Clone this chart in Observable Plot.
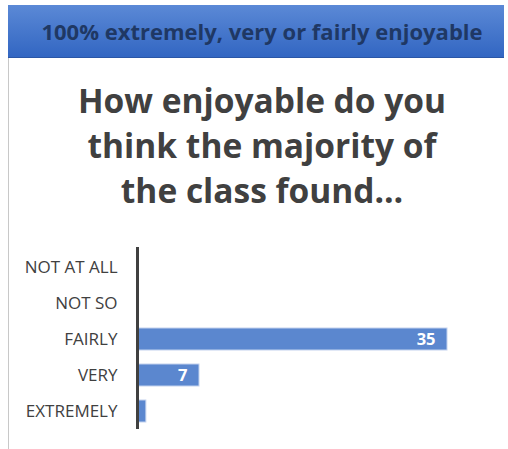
<!DOCTYPE html>
<html>
<head>
<meta charset="utf-8">
<script src="https://cdn.jsdelivr.net/npm/d3@7"></script>
<script src="https://cdn.jsdelivr.net/npm/@observablehq/plot@0.6"></script>
<style>
  html, body { margin: 0; padding: 0; background: #fff; width: 508px; height: 449px; overflow: hidden; }
  #page { position: relative; width: 508px; height: 449px; font-family: "Open Sans", sans-serif; }
  #banner { position: absolute; left: 8px; top: 5px; width: 484px; padding-left: 12px; height: 52px;
    background: linear-gradient(#5b89d6, #3266c2); border-bottom: 1px solid #2a56a6;
    color: #1f3864; font-weight: 700; font-size: 22px; line-height: 52px; text-align: center; }
  #leftline { position: absolute; left: 8px; top: 58px; width: 1px; height: 391px; background: #c8c8c8; }
  #title { position: absolute; left: 8px; top: 78px; width: 508px; text-align: center;
    color: #404040; font-weight: 700; font-size: 33.5px; line-height: 45px; }
  #chart { position: absolute; left: 0; top: 230px; }
</style>
</head>
<body>
<div id="page">
  <div id="banner">100% extremely, very or fairly enjoyable</div>
  <div id="leftline"></div>
  <div id="title">How enjoyable do you<br>think the majority of<br>the class found…</div>
  <div id="chart"></div>
</div>
<script>
const categories = ["NOT AT ALL", "NOT SO", "FAIRLY", "VERY", "EXTREMELY"];
const values = [0, 0, 35, 7, 1];
const data = categories.map((c, i) => ({category: c, value: values[i]}));

const chart = Plot.plot({
  width: 500,
  height: 219,
  marginLeft: 137,
  marginRight: 53,
  marginTop: 11,
  marginBottom: 12,
  style: {fontFamily: "Open Sans, sans-serif", fontSize: "15px", color: "#404040", background: "transparent"},
  x: {domain: [0, 35], axis: null},
  y: {domain: categories, padding: 0.4, label: null, axis: null},
  marks: [
    Plot.axisY({tickSize: 0, tickPadding: 20, fontSize: 17, fill: "#404040", label: null}),
    Plot.barX(data, {x: "value", y: "category", fill: "#5b87cf", stroke: "#c3d2ee", strokeWidth: 1}),
    Plot.text(data.filter(d => d.value >= 5), {x: "value", y: "category", text: d => String(d.value),
      textAnchor: "end", dx: -12, fill: "white", fontWeight: "bold", fontSize: 16.5}),
    Plot.ruleX([0], {stroke: "#404040", strokeWidth: 3, insetTop: 6, insetBottom: 8})
  ]
});
document.getElementById("chart").appendChild(chart);
</script>
</body>
</html>
